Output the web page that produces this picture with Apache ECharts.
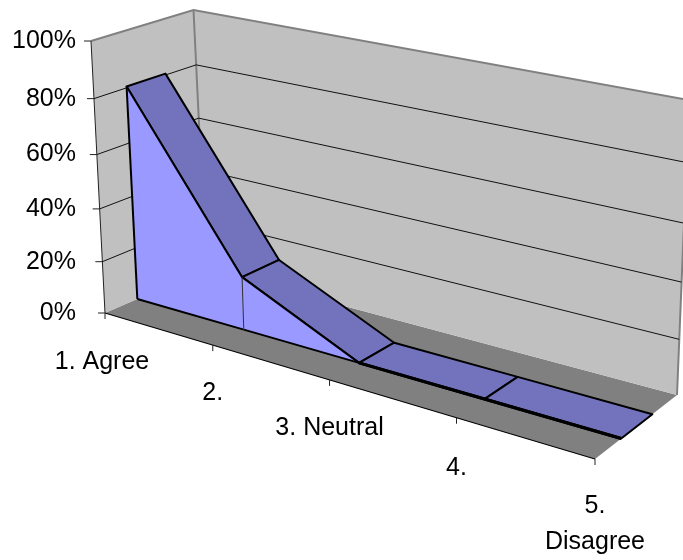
<!DOCTYPE html>
<html>
<head>
<meta charset="utf-8">
<title>3D area chart</title>
<script src="https://cdn.jsdelivr.net/npm/echarts@6/dist/echarts.min.js"></script>
<style>
  html, body { margin: 0; padding: 0; background: #fff; }
  #main { width: 683px; height: 560px; }
</style>
</head>
<body>
<div id="main"></div>
<script>
// chart data
const categories = ['1. Agree', '2.', '3. Neutral', '4.', '5.\nDisagree'];
const values = [80.5, 20, 0, 0, 0];
const valueTicks = [0, 20, 40, 60, 80, 100];

// box corners on screen: [front left, back left, back right, front right]
const floorBox = [[105, 313], [206, 269], [677, 395], [595, 459]];
const topBox = [[91, 41], [193.5, 10], [689, 100], [600, 135]];
const plot = { left: 100, top: 40, width: 500, height: 400 };
const catPersp = 0.154;
const valPersp = 0.07;
const areaFront = 0.32;
const areaBack = 0.7;
const font = '25px "Liberation Sans", Arial, sans-serif';

function persp(x, k) {
  return x * (1 - k) / (1 - k * x);
}
function mix(a, b, t) {
  return [a[0] + (b[0] - a[0]) * t, a[1] + (b[1] - a[1]) * t];
}
function onBox(box, u, d) {
  return mix(mix(box[0], box[3], u), mix(box[1], box[2], u), d);
}
// axis value -> grid pixel -> skewed 3d box
function project(api, cat, val, depth) {
  const c = api.coord([cat, val]);
  const u = persp((c[0] - plot.left) / plot.width, catPersp);
  const t = persp((plot.top + plot.height - c[1]) / plot.height, valPersp);
  return mix(onBox(floorBox, u, depth), onBox(topBox, u, depth), t);
}
function poly(points, fill, stroke, width) {
  return { type: 'polygon', shape: { points: points }, style: { fill: fill, stroke: stroke || null, lineWidth: width || 0, lineJoin: 'round' } };
}
function line(points, stroke, width) {
  return { type: 'polyline', shape: { points: points }, style: { fill: null, stroke: stroke, lineWidth: width } };
}
function label(x, y, text, align) {
  return { type: 'text', style: { x: x, y: y, text: text, fill: '#000', font: font, align: align, verticalAlign: 'middle', lineHeight: 36 } };
}

function renderWalls(params, api) {
  const last = categories.length - 1;
  const p = (c, v, d) => project(api, c, v, d);
  return {
    type: 'group',
    children: [
      poly([p(0, 0, 0), p(0, 0, 1), p(last, 0, 1), p(last, 0, 0)], '#808080'),
      poly([p(0, 0, 0), p(0, 100, 0), p(0, 100, 1), p(0, 0, 1)], '#c0c0c0'),
      poly([p(0, 0, 1), p(0, 100, 1), p(last, 100, 1), p(last, 0, 1)], '#c0c0c0'),
      line([p(0, 100, 0), p(0, 100, 1), p(last, 100, 1)], '#808080', 2),
      line([p(0, 100, 1), p(0, 0, 1)], '#808080', 2),
      line([p(last, 100, 1), p(last, 0, 1)], '#808080', 2),
      line([p(0, 100, 0), p(0, 0, 0)], '#222', 1),
      line([p(0, 0, 0), p(last, 0, 0)], '#000', 1.2)
    ]
  };
}

function renderGridline(params, api) {
  const last = categories.length - 1;
  const v = api.value(0);
  const start = project(api, 0, v, 0);
  const children = [
    line([[start[0] - 7, start[1]], start], '#222', 1),
    label(76, start[1], v + '%', 'right')
  ];
  if (v > 0 && v < 100) {
    children.push(line([start, project(api, 0, v, 1), project(api, last, v, 1)], '#111', 1));
  }
  return { type: 'group', children: children };
}

function renderCategory(params, api) {
  const i = api.value(0);
  const p = project(api, i, 0, 0);
  const text = categories[i];
  const two = text.indexOf('\n') >= 0;
  const offsets = [49, 48, 48, 50, 47];
  return {
    type: 'group',
    children: [
      line([p, [p[0], p[1] + 6]], '#222', 1),
      label(i === 0 ? p[0] - 3 : p[0], p[1] + offsets[i] + (two ? 18 : 0), text, 'center')
    ]
  };
}

function renderArea(params, api) {
  const i = api.value(0);
  const val = api.value(1);
  const last = values.length - 1;
  const children = [];
  if (i < last) {
    const next = values[i + 1];
    const flat = val === 0 && next === 0;
    children.push(poly([
      project(api, i, val, areaFront), project(api, i, val, areaBack),
      project(api, i + 1, next, areaBack), project(api, i + 1, next, areaFront)
    ], '#7373bd', '#000', 2));
    children.push(poly([
      project(api, i, 0, areaFront), project(api, i, val, areaFront),
      project(api, i + 1, next, areaFront), project(api, i + 1, 0, areaFront)
    ], '#9999ff'));
    children.push(line([project(api, i, 0, areaFront), project(api, i + 1, 0, areaFront)], '#000', flat ? 3 : 2));
    children.push(line([project(api, i, val, areaFront), project(api, i + 1, next, areaFront)], '#000', flat ? 3 : 2));
  }
  if (i === 0) {
    children.push(line([project(api, i, 0, areaFront), project(api, i, val, areaFront)], '#000', 2));
  } else if (i < last && val > 1) {
    children.push(line([project(api, i, 0, areaFront), project(api, i, val, areaFront)], '#333', 1));
  }
  return { type: 'group', children: children };
}

const chart = echarts.init(document.getElementById('main'));
chart.setOption({
  animation: false,
  backgroundColor: '#fff',
  grid: plot,
  xAxis: { type: 'category', data: categories, boundaryGap: false, show: false },
  yAxis: { type: 'value', min: 0, max: 100, interval: 20, show: false },
  series: [
    { type: 'custom', silent: true, clip: false, z: 1, renderItem: renderWalls, data: [[0]] },
    { type: 'custom', silent: true, clip: false, z: 2, renderItem: renderGridline, data: valueTicks.map(v => [v]), encode: { x: -1, y: 0 } },
    { type: 'custom', silent: true, clip: false, z: 3, renderItem: renderCategory, data: categories.map((c, i) => [i]) },
    { type: 'custom', silent: true, clip: false, z: 4, renderItem: renderArea, data: values.map((v, i) => [i, v]) }
  ]
});
</script>
</body>
</html>
